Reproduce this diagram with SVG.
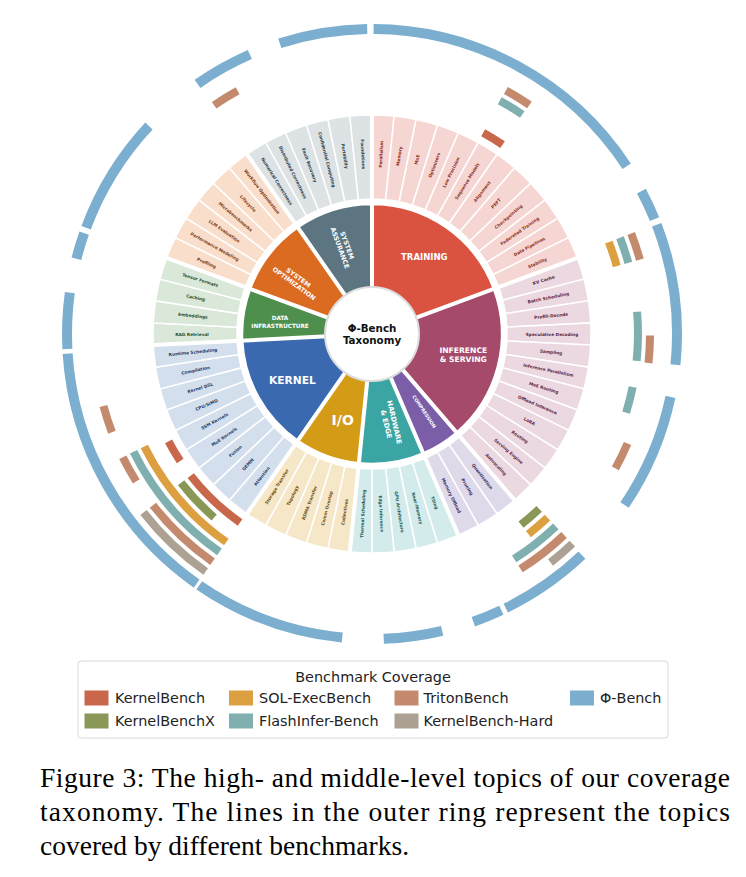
<svg xmlns="http://www.w3.org/2000/svg" xmlns:xlink="http://www.w3.org/1999/xlink" width="746" height="877" viewBox="0 0 746 877">
<style>
.cov{fill:none;stroke-width:8}
.phi{stroke:#7CAFCF;stroke-width:10}
.kb{stroke:#C8674A}.kbx{stroke:#8A9857}.sol{stroke:#DDA040}.fi{stroke:#7FAFAE}.tri{stroke:#C48A6E}.hard{stroke:#ACA192}
.cells use{stroke:#fff;stroke-width:1.5}
.sec{stroke:#fff;stroke-width:2.5}
.t{font-family:"DejaVu Sans",sans-serif;font-size:4.3px;font-weight:bold;text-anchor:middle;dominant-baseline:central}
.cl{font-family:"DejaVu Sans",sans-serif;font-weight:bold;fill:#fff;text-anchor:middle;dominant-baseline:central}
.bnd line{stroke:#fff;stroke-width:4}
.lg{font-family:"DejaVu Sans",sans-serif;font-size:14.4px;fill:#222;dominant-baseline:central}
.cap{font-family:"Liberation Serif","Times New Roman",serif;font-size:27.5px;fill:#000}
</style>
<defs>
<path id="cell" d="M0,-219 A219,219 0 0 1 22.155,-217.876 L13.657,-134.307 A135,135 0 0 0 0,-135 Z"/>
</defs>
<rect width="746" height="877" fill="#fff"/>
<g transform="translate(372,334)">
<g id="coverage">
<circle class="cov phi" r="305" stroke-dasharray="88.90 3000" transform="rotate(252.4)"/>
<circle class="cov phi" r="305" stroke-dasharray="299.70 3000" transform="rotate(-89.7)"/>
<circle class="cov phi" r="305" stroke-dasharray="31.14 3000" transform="rotate(-27.95)"/>
<circle class="cov phi" r="305" stroke-dasharray="142.66 3000" transform="rotate(-21.0)"/>
<circle class="cov phi" r="305" stroke-dasharray="118.18 3000" transform="rotate(11.9)"/>
<circle class="cov phi" r="305" stroke-dasharray="93.16 3000" transform="rotate(46.5)"/>
<circle class="cov phi" r="305" stroke-dasharray="30.34 3000" transform="rotate(64.9)"/>
<circle class="cov phi" r="305" stroke-dasharray="59.09 3000" transform="rotate(76.7)"/>
<circle class="cov phi" r="305" stroke-dasharray="153.84 3000" transform="rotate(95.6)"/>
<circle class="cov phi" r="305" stroke-dasharray="272.55 3000" transform="rotate(125.1)"/>
<circle class="cov phi" r="305" stroke-dasharray="56.43 3000" transform="rotate(177.2)"/>
<circle class="cov phi" r="305" stroke-dasharray="26.62 3000" transform="rotate(194.3)"/>
<circle class="cov phi" r="305" stroke-dasharray="120.31 3000" transform="rotate(200.4)"/>
<circle class="cov phi" r="305" stroke-dasharray="60.15 3000" transform="rotate(235.1)"/>
<circle class="cov kb" r="230" stroke-dasharray="22.88 3000" transform="rotate(-61.1)"/>
<circle class="cov kb" r="230" stroke-dasharray="68.24 3000" transform="rotate(125.0)"/>
<circle class="cov kb" r="230" stroke-dasharray="22.88 3000" transform="rotate(146.5)"/>
<circle class="cov kbx" r="242" stroke-dasharray="24.08 3000" transform="rotate(46.3)"/>
<circle class="cov kbx" r="242" stroke-dasharray="48.15 3000" transform="rotate(130.7)"/>
<circle class="cov sol" r="254" stroke-dasharray="25.27 3000" transform="rotate(-21.2)"/>
<circle class="cov sol" r="254" stroke-dasharray="25.27 3000" transform="rotate(46.3)"/>
<circle class="cov sol" r="254" stroke-dasharray="127.23 3000" transform="rotate(125.0)"/>
<circle class="cov fi" r="266" stroke-dasharray="26.46 3000" transform="rotate(-61.3)"/>
<circle class="cov fi" r="266" stroke-dasharray="26.46 3000" transform="rotate(-21.2)"/>
<circle class="cov fi" r="266" stroke-dasharray="49.21 3000" transform="rotate(-4.8)"/>
<circle class="cov fi" r="266" stroke-dasharray="26.46 3000" transform="rotate(11.5)"/>
<circle class="cov fi" r="266" stroke-dasharray="52.93 3000" transform="rotate(46.3)"/>
<circle class="cov fi" r="266" stroke-dasharray="133.24 3000" transform="rotate(125.0)"/>
<circle class="cov tri" r="278" stroke-dasharray="27.66 3000" transform="rotate(235.4)"/>
<circle class="cov tri" r="278" stroke-dasharray="27.66 3000" transform="rotate(-61.2)"/>
<circle class="cov tri" r="278" stroke-dasharray="27.66 3000" transform="rotate(-21.2)"/>
<circle class="cov tri" r="278" stroke-dasharray="27.66 3000" transform="rotate(0.3)"/>
<circle class="cov tri" r="278" stroke-dasharray="27.66 3000" transform="rotate(23.2)"/>
<circle class="cov tri" r="278" stroke-dasharray="55.31 3000" transform="rotate(46.3)"/>
<circle class="cov tri" r="278" stroke-dasharray="82.48 3000" transform="rotate(125.0)"/>
<circle class="cov tri" r="278" stroke-dasharray="27.66 3000" transform="rotate(148.0)"/>
<circle class="cov tri" r="278" stroke-dasharray="27.66 3000" transform="rotate(159.3)"/>
<circle class="cov hard" r="290" stroke-dasharray="28.85 3000" transform="rotate(46.3)"/>
<circle class="cov hard" r="290" stroke-dasharray="86.04 3000" transform="rotate(125.0)"/>
</g>

<g id="training">
<path class="sec" fill="#D95340" d="M0,0 L0,-130 A130,130 0 0 1 121.91,-45.15 Z"/>
<g class="cells" fill="#F6D6D2">
<use xlink:href="#cell" transform="rotate(0)"/><use xlink:href="#cell" transform="rotate(5.806)"/><use xlink:href="#cell" transform="rotate(11.613)"/><use xlink:href="#cell" transform="rotate(17.419)"/><use xlink:href="#cell" transform="rotate(23.226)"/><use xlink:href="#cell" transform="rotate(29.032)"/><use xlink:href="#cell" transform="rotate(34.839)"/><use xlink:href="#cell" transform="rotate(40.645)"/><use xlink:href="#cell" transform="rotate(46.452)"/><use xlink:href="#cell" transform="rotate(52.258)"/><use xlink:href="#cell" transform="rotate(58.065)"/><use xlink:href="#cell" transform="rotate(63.871)"/>
</g>
<g fill="#8C2D20">
<text class="t" transform="rotate(-87.097) translate(180,0)">Parallelism</text>
<text class="t" transform="rotate(-81.290) translate(180,0)">Memory</text>
<text class="t" transform="rotate(-75.484) translate(180,0)">MoE</text>
<text class="t" transform="rotate(-69.677) translate(180,0)">Optimizers</text>
<text class="t" transform="rotate(-63.871) translate(180,0)">Low Precision</text>
<text class="t" transform="rotate(-58.065) translate(180,0)">Sequence Models</text>
<text class="t" transform="rotate(-52.258) translate(180,0)">Alignment</text>
<text class="t" transform="rotate(-46.452) translate(180,0)">PEFT</text>
<text class="t" transform="rotate(-40.645) translate(180,0)">Checkpointing</text>
<text class="t" transform="rotate(-34.839) translate(180,0)">Federated Training</text>
<text class="t" transform="rotate(-29.032) translate(180,0)">Data Pipelines</text>
<text class="t" transform="rotate(-23.226) translate(180,0)">Stability</text>
</g>
<text class="cl" x="52.3" y="-77.3" font-size="8.5">TRAINING</text>
</g>

<g id="inference">
<path class="sec" fill="#A54A6A" transform="rotate(69.677)" d="M0,0 L0,-130 A130,130 0 0 1 121.91,-45.15 Z"/>
<g class="cells" fill="#EBD8E0">
<use xlink:href="#cell" transform="rotate(69.677)"/><use xlink:href="#cell" transform="rotate(75.484)"/><use xlink:href="#cell" transform="rotate(81.290)"/><use xlink:href="#cell" transform="rotate(87.097)"/><use xlink:href="#cell" transform="rotate(92.903)"/><use xlink:href="#cell" transform="rotate(98.710)"/><use xlink:href="#cell" transform="rotate(104.516)"/><use xlink:href="#cell" transform="rotate(110.323)"/><use xlink:href="#cell" transform="rotate(116.129)"/><use xlink:href="#cell" transform="rotate(121.935)"/><use xlink:href="#cell" transform="rotate(127.742)"/><use xlink:href="#cell" transform="rotate(133.548)"/>
</g>
<g fill="#5B2440">
<text class="t" transform="rotate(-17.419) translate(180,0)">KV Cache</text>
<text class="t" transform="rotate(-11.613) translate(180,0)">Batch Scheduling</text>
<text class="t" transform="rotate(-5.806) translate(180,0)">Prefill-Decode</text>
<text class="t" transform="rotate(0) translate(180,0)">Speculative Decoding</text>
<text class="t" transform="rotate(5.806) translate(180,0)">Sampling</text>
<text class="t" transform="rotate(11.613) translate(180,0)">Inference Parallelism</text>
<text class="t" transform="rotate(17.419) translate(180,0)">MoE Routing</text>
<text class="t" transform="rotate(23.226) translate(180,0)">Offload Inference</text>
<text class="t" transform="rotate(29.032) translate(180,0)">LoRA</text>
<text class="t" transform="rotate(34.839) translate(180,0)">Routing</text>
<text class="t" transform="rotate(40.645) translate(180,0)">Serving Engine</text>
<text class="t" transform="rotate(46.452) translate(180,0)">Autoscaling</text>
</g>
<text class="cl" font-size="7.6"><tspan x="91.3" y="16.2">INFERENCE</tspan><tspan x="91.3" y="24.6">&amp; SERVING</tspan></text>
</g>

<g id="compression">
<path class="sec" fill="#7B5EA7" transform="rotate(139.355)" d="M0,0 L0,-130 A130,130 0 0 1 38.92,-124.04 Z"/>
<g class="cells" fill="#DFDAEA">
<use xlink:href="#cell" transform="rotate(139.355)"/><use xlink:href="#cell" transform="rotate(145.161)"/><use xlink:href="#cell" transform="rotate(150.968)"/>
</g>
<g fill="#3C2F66">
<text class="t" transform="rotate(52.258) translate(180,0)">Quantization</text>
<text class="t" transform="rotate(58.065) translate(180,0)">Pruning</text>
<text class="t" transform="rotate(63.871) translate(180,0)">Memory Offload</text>
</g>
<text class="cl" font-size="4.7" transform="translate(52,77.7) rotate(56)">COMPRESSION</text>
</g>

<g id="hardware">
<path class="sec" fill="#3AA5A2" transform="rotate(156.774)" d="M0,0 L0,-130 A130,130 0 0 1 63.09,-113.67 Z"/>
<g class="cells" fill="#D3EBEA">
<use xlink:href="#cell" transform="rotate(156.774)"/><use xlink:href="#cell" transform="rotate(162.581)"/><use xlink:href="#cell" transform="rotate(168.387)"/><use xlink:href="#cell" transform="rotate(174.194)"/><use xlink:href="#cell" transform="rotate(180)"/>
</g>
<g fill="#1C5B59">
<text class="t" transform="rotate(69.677) translate(180,0)">Tiling</text>
<text class="t" transform="rotate(75.484) translate(180,0)">Near-Memory</text>
<text class="t" transform="rotate(81.290) translate(180,0)">GPU Architecture</text>
<text class="t" transform="rotate(87.097) translate(180,0)">Edge Inference</text>
<text class="t" transform="rotate(-87.097) translate(-180,0)">Thermal Scheduling</text>
</g>
<text class="cl" font-size="6.9" transform="translate(18,89.3) rotate(77)"><tspan x="0" y="-4.2">HARDWARE</tspan><tspan x="0" y="4.2">&amp; EDGE</tspan></text>
</g>

<g id="io">
<path class="sec" fill="#D49B17" transform="rotate(185.806)" d="M0,0 L0,-130 A130,130 0 0 1 63.09,-113.67 Z"/>
<g class="cells" fill="#F6E7C8">
<use xlink:href="#cell" transform="rotate(185.806)"/><use xlink:href="#cell" transform="rotate(191.613)"/><use xlink:href="#cell" transform="rotate(197.419)"/><use xlink:href="#cell" transform="rotate(203.226)"/><use xlink:href="#cell" transform="rotate(209.032)"/>
</g>
<g fill="#6E4E0C">
<text class="t" transform="rotate(-81.290) translate(-180,0)">Collectives</text>
<text class="t" transform="rotate(-75.484) translate(-180,0)">Comm Overlap</text>
<text class="t" transform="rotate(-69.677) translate(-180,0)">RDMA Transfer</text>
<text class="t" transform="rotate(-63.871) translate(-180,0)">Topology</text>
<text class="t" transform="rotate(-58.065) translate(-180,0)">Storage Transfer</text>
</g>
<text class="cl" x="-29.3" y="86" font-size="14">I/O</text>
</g>

<g id="kernel">
<path class="sec" fill="#3A69B0" transform="rotate(214.839)" d="M0,0 L0,-130 A130,130 0 0 1 102.80,-79.57 Z"/>
<g class="cells" fill="#D4DFED">
<use xlink:href="#cell" transform="rotate(214.839)"/><use xlink:href="#cell" transform="rotate(220.645)"/><use xlink:href="#cell" transform="rotate(226.452)"/><use xlink:href="#cell" transform="rotate(232.258)"/><use xlink:href="#cell" transform="rotate(238.065)"/><use xlink:href="#cell" transform="rotate(243.871)"/><use xlink:href="#cell" transform="rotate(249.677)"/><use xlink:href="#cell" transform="rotate(255.484)"/><use xlink:href="#cell" transform="rotate(261.290)"/>
</g>
<g fill="#1E3C6B">
<text class="t" transform="rotate(-52.258) translate(-180,0)">Attention</text>
<text class="t" transform="rotate(-46.452) translate(-180,0)">GEMM</text>
<text class="t" transform="rotate(-40.645) translate(-180,0)">Fusion</text>
<text class="t" transform="rotate(-34.839) translate(-180,0)">MoE Kernels</text>
<text class="t" transform="rotate(-29.032) translate(-180,0)">SSM Kernels</text>
<text class="t" transform="rotate(-23.226) translate(-180,0)">CPU/SIMD</text>
<text class="t" transform="rotate(-17.419) translate(-180,0)">Kernel DSL</text>
<text class="t" transform="rotate(-11.613) translate(-180,0)">Compilation</text>
<text class="t" transform="rotate(-5.806) translate(-180,0)">Runtime Scheduling</text>
</g>
<text class="cl" x="-79.7" y="46" font-size="10.7">KERNEL</text>
</g>

<g id="data-infrastructure">
<path class="sec" fill="#4E8F4E" transform="rotate(267.097)" d="M0,0 L0,-130 A130,130 0 0 1 51.27,-119.46 Z"/>
<g class="cells" fill="#D9E8D9">
<use xlink:href="#cell" transform="rotate(267.097)"/><use xlink:href="#cell" transform="rotate(272.903)"/><use xlink:href="#cell" transform="rotate(278.710)"/><use xlink:href="#cell" transform="rotate(284.516)"/>
</g>
<g fill="#2B4E2B">
<text class="t" transform="rotate(0) translate(-180,0)">RAG Retrieval</text>
<text class="t" transform="rotate(5.806) translate(-180,0)">Embeddings</text>
<text class="t" transform="rotate(11.613) translate(-180,0)">Caching</text>
<text class="t" transform="rotate(17.419) translate(-180,0)">Tensor Formats</text>
</g>
<text class="cl" font-size="5.7"><tspan x="-92" y="-15.7">DATA</tspan><tspan x="-92" y="-8.3">INFRASTRUCTURE</tspan></text>
</g>

<g id="system-optimization">
<path class="sec" fill="#DC6B22" transform="rotate(290.323)" d="M0,0 L0,-130 A130,130 0 0 1 74.27,-106.70 Z"/>
<g class="cells" fill="#F8DECB">
<use xlink:href="#cell" transform="rotate(290.323)"/><use xlink:href="#cell" transform="rotate(296.129)"/><use xlink:href="#cell" transform="rotate(301.935)"/><use xlink:href="#cell" transform="rotate(307.742)"/><use xlink:href="#cell" transform="rotate(313.548)"/><use xlink:href="#cell" transform="rotate(319.355)"/>
</g>
<g fill="#7C3812">
<text class="t" transform="rotate(23.226) translate(-180,0)">Profiling</text>
<text class="t" transform="rotate(29.032) translate(-180,0)">Performance Modeling</text>
<text class="t" transform="rotate(34.839) translate(-180,0)">LLM Evaluation</text>
<text class="t" transform="rotate(40.645) translate(-180,0)">Microbenchmarks</text>
<text class="t" transform="rotate(46.452) translate(-180,0)">Lifecycle</text>
<text class="t" transform="rotate(52.258) translate(-180,0)">Workflow Optimization</text>
</g>
<text class="cl" font-size="6.3" transform="translate(-75.3,-54) rotate(36)"><tspan x="0" y="-3.7">SYSTEM</tspan><tspan x="0" y="3.7">OPTIMIZATION</tspan></text>
</g>

<g id="system-assurance">
<path class="sec" fill="#5D7580" transform="rotate(325.161)" d="M0,0 L0,-130 A130,130 0 0 1 74.27,-106.70 Z"/>
<g class="cells" fill="#DDE2E5">
<use xlink:href="#cell" transform="rotate(325.161)"/><use xlink:href="#cell" transform="rotate(330.968)"/><use xlink:href="#cell" transform="rotate(336.774)"/><use xlink:href="#cell" transform="rotate(342.581)"/><use xlink:href="#cell" transform="rotate(348.387)"/><use xlink:href="#cell" transform="rotate(354.194)"/>
</g>
<g fill="#2E3D45">
<text class="t" transform="rotate(58.065) translate(-180,0)">Numerical Correctness</text>
<text class="t" transform="rotate(63.871) translate(-180,0)">Distributed Correctness</text>
<text class="t" transform="rotate(69.677) translate(-180,0)">Fault Recovery</text>
<text class="t" transform="rotate(75.484) translate(-180,0)">Confidential Computing</text>
<text class="t" transform="rotate(81.290) translate(-180,0)">Portability</text>
<text class="t" transform="rotate(87.097) translate(-180,0)">Foundations</text>
</g>
<text class="cl" font-size="6.4" transform="translate(-28.7,-87.3) rotate(70)"><tspan x="0" y="-3.8">SYSTEM</tspan><tspan x="0" y="3.8">ASSURANCE</tspan></text>
</g>

<g class="bnd">
<line y1="-40" y2="-224" transform="rotate(0)"/>
<line y1="-40" y2="-224" transform="rotate(69.677)"/>
<line y1="-40" y2="-224" transform="rotate(139.355)"/>
<line y1="-40" y2="-224" transform="rotate(156.774)"/>
<line y1="-40" y2="-224" transform="rotate(185.806)"/>
<line y1="-40" y2="-224" transform="rotate(214.839)"/>
<line y1="-40" y2="-224" transform="rotate(267.097)"/>
<line y1="-40" y2="-224" transform="rotate(290.323)"/>
<line y1="-40" y2="-224" transform="rotate(325.161)"/>
</g>

<g id="center">
<circle r="47" fill="#fff" stroke="#dcdcdc" stroke-width="2"/>
<text class="cl" font-size="10.3" style="fill:#111"><tspan x="0" y="-6">Φ-Bench</tspan><tspan x="0" y="6">Taxonomy</tspan></text>
</g>
</g>

<g id="legend">
<rect x="78" y="661" width="590" height="77" rx="3" fill="#fff" stroke="#d9d9d9"/>
<text class="lg" x="373" y="677" text-anchor="middle">Benchmark Coverage</text>
<rect x="84.5" y="690.5" width="24" height="15" fill="#C8674A"/>
<text class="lg" x="115" y="698">KernelBench</text>
<rect x="229" y="690.5" width="24" height="15" fill="#DDA040"/>
<text class="lg" x="259" y="698">SOL-ExecBench</text>
<rect x="394.5" y="690.5" width="24" height="15" fill="#C48A6E"/>
<text class="lg" x="423.5" y="698">TritonBench</text>
<rect x="570" y="690.5" width="24" height="15" fill="#7CAFCF"/>
<text class="lg" x="600" y="698">Φ-Bench</text>
<rect x="84.5" y="713.5" width="24" height="15" fill="#8A9857"/>
<text class="lg" x="115" y="721">KernelBenchX</text>
<rect x="229" y="713.5" width="24" height="15" fill="#7FAFAE"/>
<text class="lg" x="259" y="721">FlashInfer-Bench</text>
<rect x="394.5" y="713.5" width="24" height="15" fill="#ACA192"/>
<text class="lg" x="423.5" y="721">KernelBench-Hard</text>
</g>

<g id="caption">
<text class="cap" x="40" y="787" textLength="690" lengthAdjust="spacing">Figure 3: The high- and middle-level topics of our coverage</text>
<text class="cap" x="40" y="821" textLength="690" lengthAdjust="spacing">taxonomy. The lines in the outer ring represent the topics</text>
<text class="cap" x="40" y="855">covered by different benchmarks.</text>
</g>
</svg>
